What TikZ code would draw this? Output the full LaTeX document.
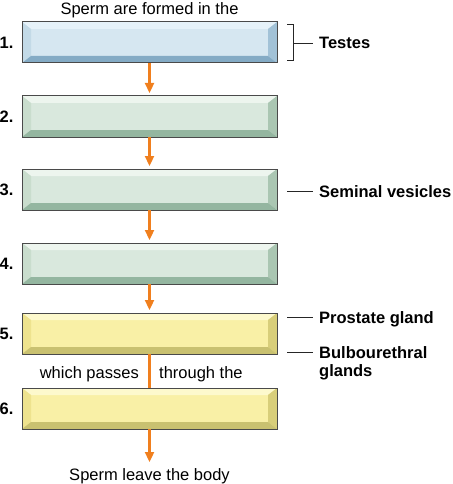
\documentclass[tikz,border=0pt]{standalone}
\usepackage{fontspec}
\setmainfont{Liberation Sans}
\usetikzlibrary{arrows.meta,calc}
\definecolor{bC}{HTML}{D6E7F1}\definecolor{bT}{HTML}{E6F2F9}\definecolor{bL}{HTML}{C3DAE7}\definecolor{bR}{HTML}{A2C2D7}\definecolor{bB}{HTML}{84ABC5}
\definecolor{gC}{HTML}{D9E8DD}\definecolor{gT}{HTML}{EDF5EE}\definecolor{gL}{HTML}{C9DDCD}\definecolor{gR}{HTML}{AAC6B2}\definecolor{gB}{HTML}{94B6A0}
\definecolor{yC}{HTML}{F9F0A6}\definecolor{yT}{HTML}{FDF9CD}\definecolor{yL}{HTML}{EEE38E}\definecolor{yR}{HTML}{D8CE7A}\definecolor{yB}{HTML}{C9C170}
\definecolor{flow}{HTML}{F07F1E}
\definecolor{edge}{HTML}{4A4A4A}
\tikzset{
  boxnode/.style={rectangle, minimum width=255pt, minimum height=41pt, inner sep=0pt, outer sep=0pt},
  txt/.style={font=\fontsize{16.5}{18}\selectfont, inner sep=0pt, anchor=base},
  lbl/.style={font=\fontsize{16.5}{18}\selectfont\bfseries, inner sep=0pt, anchor=base west},
  num/.style={font=\fontsize{16.5}{18}\selectfont\bfseries, inner sep=0pt, anchor=base west},
  flowarrow/.style={draw=flow, line width=2.3pt, -{Triangle[width=9pt,length=10pt]}, shorten >=3pt},
  flowline/.style={draw=flow, line width=2.3pt},
  leader/.style={draw=black!85, line width=0.8pt},
}
\newcommand\bevelbox[3]{% name, top y, colour prefix
  \node[boxnode, fill=#3C] (#1) at (149.5,{#2+20.5}) {};
  \fill[#3T] (#1.north west) -- (#1.north east) -- ([xshift=-9pt,yshift=-7pt]#1.north east) -- ([xshift=9pt,yshift=-7pt]#1.north west) -- cycle;
  \fill[#3L] (#1.north west) -- ([xshift=9pt,yshift=-7pt]#1.north west) -- ([xshift=9pt,yshift=7pt]#1.south west) -- (#1.south west) -- cycle;
  \fill[#3R] (#1.north east) -- ([xshift=-9pt,yshift=-7pt]#1.north east) -- ([xshift=-9pt,yshift=7pt]#1.south east) -- (#1.south east) -- cycle;
  \fill[#3B] (#1.south west) -- ([xshift=9pt,yshift=7pt]#1.south west) -- ([xshift=-9pt,yshift=7pt]#1.south east) -- (#1.south east) -- cycle;
  \draw[edge, line width=1pt] (#1.north west) rectangle (#1.south east);
}
\begin{document}
\begin{tikzpicture}[x=1pt,y=-1pt]
\useasboundingbox (0,0) rectangle (452,484);
\bevelbox{b1}{22}{b}
\bevelbox{b2}{96}{g}
\bevelbox{b3}{169}{g}
\bevelbox{b4}{243}{g}
\bevelbox{b5}{313}{y}
\bevelbox{b6}{388}{y}
% numbers
\node[num] (n1) at (-0.5,48.5) {1.};
\node[num] (n2) at (-0.5,122.5) {2.};
\node[num] (n3) at (-0.5,195.5) {3.};
\node[num] (n4) at (-0.5,269.5) {4.};
\node[num] (n5) at (-0.5,339.5) {5.};
\node[num] (n6) at (-0.5,414.5) {6.};
% texts
\node[txt] (top) at (149.5,15) {Sperm are formed in the};
\node[txt, anchor=base east] (wp) at (139,378.5) {which passes};
\node[txt, anchor=base west] (tt) at (159,378.5) {through the};
\node[txt] (leave) at (149.5,480) {Sperm leave the body};
\coordinate (endpt) at (149.5,465);
% arrows
\draw[flowarrow] (b1) -- (b2);
\draw[flowarrow] (b2) -- (b3);
\draw[flowarrow] (b3) -- (b4);
\draw[flowarrow] (b4) -- (b5);
\draw[flowline] (b5) -- (b6);
\draw[flowarrow] (b6.south) -- (endpt);
% bracket for testes
\coordinate (brT) at (287,24);
\coordinate (brB) at (287,60);
\draw[leader] (brT) -- ++(6,0) |- (brB);
\node[lbl] (testes) at (319,49) {Testes};
\draw[leader] (293,43) -- ([xshift=-6pt]testes.west |- 0,43);
% seminal vesicles
\node[lbl] (sv) at (319,197) {Seminal vesicles};
\draw[leader] (287,191) -- ([xshift=-6pt]sv.west |- 0,191);
% prostate
\node[lbl] (pg) at (319,323.5) {Prostate gland};
\draw[leader] (287,317) -- ([xshift=-6pt]pg.west |- 0,317);
% bulbourethral
\node[lbl, align=left, anchor=north west, font=\fontsize{16.5}{17.5}\selectfont\bfseries] (bg) at (319,346.5) {Bulbourethral\\glands};
\draw[leader] (287,352) -- ([xshift=-6pt]bg.west |- 0,352);
\end{tikzpicture}
\end{document}
